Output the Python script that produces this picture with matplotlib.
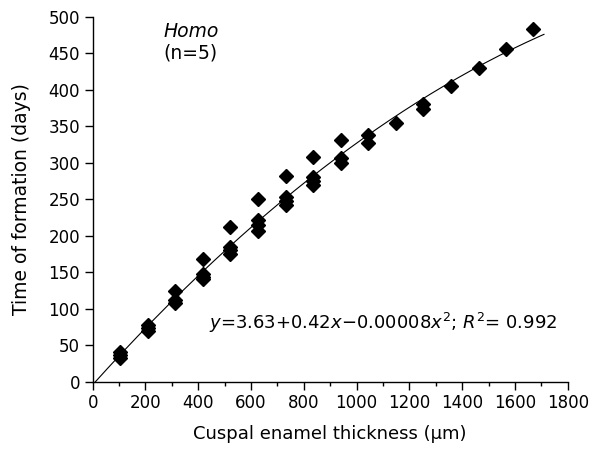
import numpy as np
import matplotlib
matplotlib.use("Agg")
import matplotlib.pyplot as plt

plt.rcParams['font.family'] = ['DejaVu Sans']
plt.rcParams['mathtext.fontset'] = 'dejavusans'

# Data (x as drawn, in µm; y in days)
thickness = [104, 104, 104,
             209, 209, 209,
             313, 313, 313,
             418, 418, 418, 418,
             522, 522, 522, 522,
             627, 627, 627, 627,
             731, 731, 731, 731,
             835, 835, 835, 835,
             940, 940, 940,
             1044, 1044,
             1148,
             1253, 1253,
             1357,
             1462,
             1566,
             1670]
days = [40, 36, 32,
        78, 73, 69,
        124, 112, 108,
        168, 147, 144, 141,
        212, 185, 180, 175,
        250, 222, 215, 206,
        282, 253, 247, 242,
        308, 281, 275, 270,
        331, 307, 299,
        338, 327,
        354,
        380, 374,
        405,
        430,
        456,
        483]

curve_end = 1710
xticks = [0, 200, 400, 600, 800, 1000, 1200, 1400, 1600, 1800]
yticks = [0, 50, 100, 150, 200, 250, 300, 350, 400, 450, 500]

fig = plt.figure(figsize=(6.10, 4.49), dpi=100)
ax = fig.add_axes([0.152, 0.15, 0.7787, 0.8129])

coef = np.polyfit(thickness, days, 2)
xc = np.linspace(0, curve_end, 300)
ax.plot(xc, np.polyval(coef, xc), color='black', lw=0.8, zorder=2)
ax.plot(thickness, days, linestyle='none', marker='D', ms=7.5,
        color='black', zorder=3)

ax.set_xlim(0, 1800)
ax.set_ylim(0, 500)
ax.set_xticks(xticks)
ax.set_xticks(np.arange(100, 1800, 200), minor=True)
ax.set_yticks(yticks)
for s in ['top', 'right']:
    ax.spines[s].set_visible(False)
for s in ['left', 'bottom']:
    ax.spines[s].set_linewidth(1.0)
ax.tick_params(axis='both', which='major', direction='out', length=5.5,
               width=1.0, labelsize=12, colors='black')
ax.tick_params(axis='x', which='minor', direction='out', length=3, width=1.0)

ax.set_xlabel('Cuspal enamel thickness (μm)', fontsize=13, labelpad=9)
ax.set_ylabel('Time of formation (days)', fontsize=13.5, labelpad=13)

ax.text(0.207, 0.959, 'Homo', transform=ax.transAxes, fontsize=13.5,
        style='italic', ha='center', va='center')
ax.text(0.205, 0.90, '(n=5)', transform=ax.transAxes, fontsize=13.5,
        ha='center', va='center')
ax.text(0.977, 0.161, r'$y$=3.63+0.42$x$−0.00008$x^2$; $R^2$= 0.992',
        transform=ax.transAxes, fontsize=13, ha='right', va='center')

fig.savefig('out.png', dpi=100)
